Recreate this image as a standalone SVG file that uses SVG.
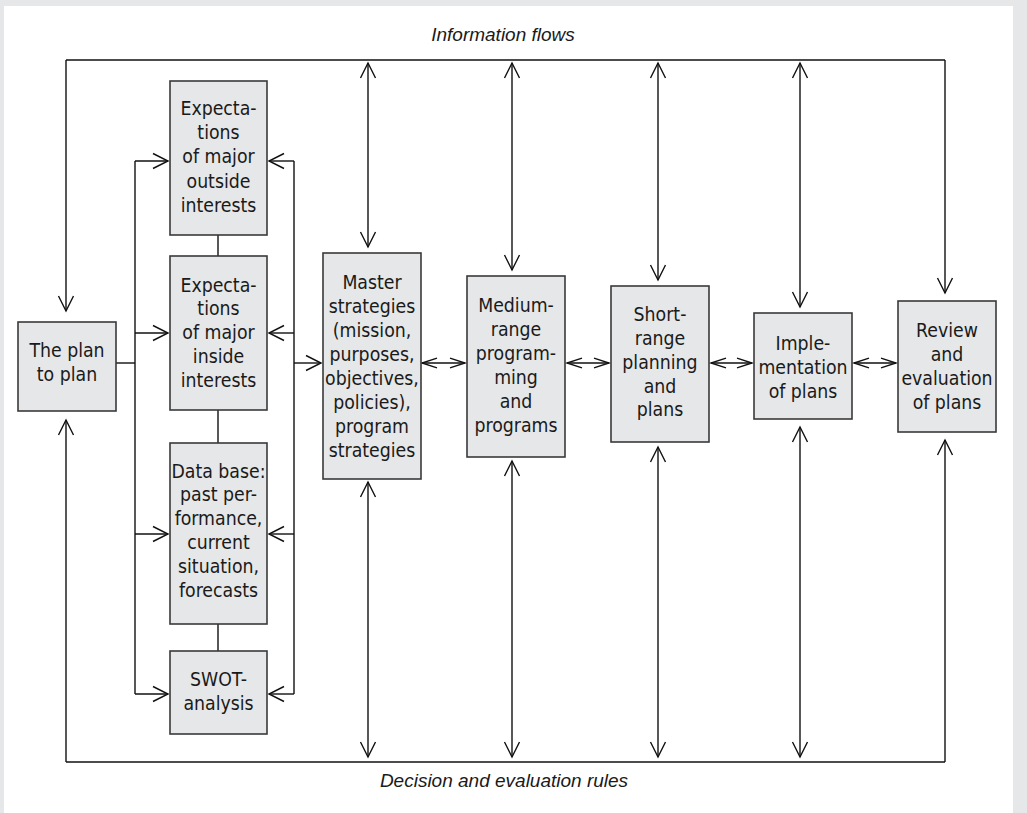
<svg xmlns="http://www.w3.org/2000/svg" width="1027" height="813" viewBox="0 0 1027 813">
<style>
.box{fill:#e6e7e8;stroke:#3a3a3a;stroke-width:1.6}
.t{font-family:"Liberation Sans Narrow","DejaVu Sans Condensed","Liberation Sans",sans-serif;font-size:19.3px;fill:#1a1a1a;text-anchor:middle}
.lbl{font-family:"Liberation Sans",Arial,sans-serif;font-style:italic;font-size:19px;fill:#1a1a1a;text-anchor:middle}
.c{fill:none;stroke:#111;stroke-width:1.4}
.a{marker-end:url(#ah)}
.aa{marker-start:url(#ah);marker-end:url(#ah)}
.bb{marker-start:url(#ahf);marker-end:url(#ahf)}
</style>
<defs>
<marker id="ah" markerUnits="userSpaceOnUse" markerWidth="20" markerHeight="20" viewBox="-17 -10 20 20" refX="0" refY="0" orient="auto-start-reverse">
<path d="M-15,-7.5 L0,0 L-15,7.5" fill="none" stroke="#111" stroke-width="1.4"/>
</marker>
<marker id="ahf" markerUnits="userSpaceOnUse" markerWidth="20" markerHeight="20" viewBox="-17 -10 20 20" refX="0" refY="0" orient="auto-start-reverse">
<path d="M-15,-4.8 L0,0 L-15,4.8" fill="none" stroke="#111" stroke-width="1.4"/>
</marker>
</defs>
<rect x="0" y="0" width="1027" height="813" fill="#e6e7e8"/>
<rect x="4" y="6" width="1009" height="807" fill="#ffffff"/>
<text class="lbl" x="503" y="41">Information flows</text>
<text class="lbl" x="504" y="787">Decision and evaluation rules</text>
<g id="connectors">
<path class="c a" d="M66,60 L66,311"/>
<path class="c" d="M66,60 L945,60"/>
<path class="c a" d="M945,60 L945,293"/>
<path class="c a" d="M66,762 L66,420"/>
<path class="c" d="M66,762 L945,762"/>
<path class="c a" d="M945,762 L945,440"/>
<path class="c aa" d="M368,63 L368,247"/>
<path class="c aa" d="M368,482 L368,757"/>
<path class="c aa" d="M512,63 L512,270"/>
<path class="c aa" d="M512,461 L512,757"/>
<path class="c aa" d="M658,63 L658,280"/>
<path class="c aa" d="M658,447 L658,757"/>
<path class="c aa" d="M800,63 L800,307"/>
<path class="c aa" d="M800,427 L800,757"/>
<path class="c bb" d="M422,363 L465,363"/>
<path class="c bb" d="M567,363 L609,363"/>
<path class="c bb" d="M711,363 L752,363"/>
<path class="c bb" d="M854,363 L896,363"/>
<path class="c" d="M116,363 L135,363"/>
<path class="c" d="M135,161 L135,694"/>
<path class="c a" d="M135,161 L168,161"/>
<path class="c a" d="M135,333 L168,333"/>
<path class="c a" d="M135,534 L168,534"/>
<path class="c a" d="M135,694 L168,694"/>
<path class="c" d="M294,161 L294,694"/>
<path class="c a" d="M294,161 L269,161"/>
<path class="c a" d="M294,333 L269,333"/>
<path class="c a" d="M294,534 L269,534"/>
<path class="c a" d="M294,694 L269,694"/>
<path class="c a" d="M294,363 L321,363"/>
<path class="c" d="M218,235 L218,256"/>
<path class="c" d="M218,410 L218,443"/>
<path class="c" d="M218,624 L218,651"/>
</g>
<g id="plan">
<rect class="box" x="18" y="322" width="98" height="89"/>
<text class="t" x="67" y="357">The plan</text>
<text class="t" x="67" y="381">to plan</text>
</g>
<g id="outside">
<rect class="box" x="170" y="81" width="97" height="154"/>
<text class="t" x="218.5" y="115">Expecta-</text>
<text class="t" x="218.5" y="139">tions</text>
<text class="t" x="218.5" y="163">of major</text>
<text class="t" x="218.5" y="188">outside</text>
<text class="t" x="218.5" y="212">interests</text>
</g>
<g id="inside">
<rect class="box" x="170" y="256" width="97" height="154"/>
<text class="t" x="218.5" y="292">Expecta-</text>
<text class="t" x="218.5" y="315">tions</text>
<text class="t" x="218.5" y="339">of major</text>
<text class="t" x="218.5" y="363">inside</text>
<text class="t" x="218.5" y="387">interests</text>
</g>
<g id="database">
<rect class="box" x="170" y="443" width="97" height="181"/>
<text class="t" x="218.5" y="478">Data base:</text>
<text class="t" x="218.5" y="501">past per-</text>
<text class="t" x="218.5" y="525">formance,</text>
<text class="t" x="218.5" y="549">current</text>
<text class="t" x="218.5" y="573">situation,</text>
<text class="t" x="218.5" y="597">forecasts</text>
</g>
<g id="swot">
<rect class="box" x="170" y="651" width="97" height="83"/>
<text class="t" x="218.5" y="686">SWOT-</text>
<text class="t" x="218.5" y="710">analysis</text>
</g>
<g id="master">
<rect class="box" x="323" y="253" width="98" height="226"/>
<text class="t" x="372" y="289">Master</text>
<text class="t" x="372" y="313">strategies</text>
<text class="t" x="372" y="337">(mission,</text>
<text class="t" x="372" y="361">purposes,</text>
<text class="t" x="372" y="385">objectives,</text>
<text class="t" x="372" y="409">policies),</text>
<text class="t" x="372" y="433">program</text>
<text class="t" x="372" y="457">strategies</text>
</g>
<g id="medium">
<rect class="box" x="467" y="276" width="98" height="181"/>
<text class="t" x="516" y="312">Medium-</text>
<text class="t" x="516" y="336">range</text>
<text class="t" x="516" y="360">program-</text>
<text class="t" x="516" y="384">ming</text>
<text class="t" x="516" y="408">and</text>
<text class="t" x="516" y="432">programs</text>
</g>
<g id="short">
<rect class="box" x="611" y="286" width="98" height="156"/>
<text class="t" x="660" y="321">Short-</text>
<text class="t" x="660" y="345">range</text>
<text class="t" x="660" y="369">planning</text>
<text class="t" x="660" y="393">and</text>
<text class="t" x="660" y="416">plans</text>
</g>
<g id="implementation">
<rect class="box" x="754" y="313" width="98" height="106"/>
<text class="t" x="803" y="350">Imple-</text>
<text class="t" x="803" y="374">mentation</text>
<text class="t" x="803" y="398">of plans</text>
</g>
<g id="review">
<rect class="box" x="898" y="301" width="98" height="131"/>
<text class="t" x="947" y="337">Review</text>
<text class="t" x="947" y="361">and</text>
<text class="t" x="947" y="385">evaluation</text>
<text class="t" x="947" y="409">of plans</text>
</g>
</svg>
